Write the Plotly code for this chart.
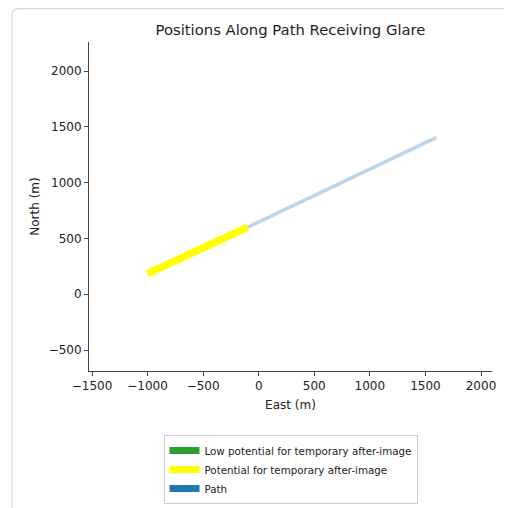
import plotly.graph_objects as go

# Data
path_east = [-1000, -100, 1600]
path_north = [185, 600, 1405]
glare_east = [-1000, -100]
glare_north = [185, 600]
legend_names = ["Low potential for temporary after-image",
                "Potential for temporary after-image",
                "Path"]
legend_colors = ["#2ca02c", "#ffff00", "#1f77b4"]
x_ticks = [-1500, -1000, -500, 0, 500, 1000, 1500, 2000]
y_ticks = [-500, 0, 500, 1000, 1500, 2000]

FONT = "DejaVu Sans"
fig = go.Figure()

# actual marks
fig.add_trace(go.Scatter(x=path_east, y=path_north, mode="lines",
                         line=dict(color="rgba(31,119,180,0.3)", width=3.5),
                         showlegend=False, hoverinfo="skip"))
fig.add_trace(go.Scatter(x=glare_east, y=glare_north, mode="lines",
                         line=dict(color="#ffff00", width=7.5),
                         showlegend=False, hoverinfo="skip"))

# legend entries
for name, col in zip(legend_names, legend_colors):
    fig.add_trace(go.Scatter(x=[None], y=[None], mode="lines", name=name,
                             line=dict(color=col, width=7)))

OFF = 8  # page body margin
W, H = 504, 500
L, T = 89 - OFF, 42 - OFF
R = W - (492 - OFF)
B = H - (371 - OFF)
pw, ph = W - L - R, H - T - B

def px(x):
    return (x - OFF - L) / pw

def py(y):
    return (H - B - (y - OFF)) / ph

x0, y1 = px(12), py(8.6)
xr, yb = px(540), py(540)
dx, dy = 7 / pw, 7 / ph
card = (f"M {x0},{yb} L {x0},{y1-dy} Q {x0},{y1} {x0+dx},{y1} L {xr},{y1}")

fig.add_shape(type="path", path=card, xref="paper", yref="paper",
              line=dict(color="#d8d8d8", width=1.2), layer="below")

fig.update_layout(
    width=W, height=H,
    margin=dict(l=L, r=R, t=T, b=B, autoexpand=False),
    paper_bgcolor="white", plot_bgcolor="white",
    font=dict(family=FONT, size=12, color="#222"),
    title=dict(text="Positions Along Path Receiving Glare",
               xref="paper", x=px(290.5), xanchor="center",
               y=1 - (30 - OFF) / H, yanchor="middle",
               font=dict(size=14.8, color="#222")),
    xaxis=dict(range=[-1527, 2099], tickvals=x_ticks, showgrid=False,
               zeroline=False, showline=True, linecolor="#444", linewidth=1,
               ticks="outside", ticklen=4, tickcolor="#444",
               tickfont=dict(size=12),
               title=dict(text="East (m)", standoff=8, font=dict(size=12))),
    yaxis=dict(range=[-688, 2260], tickvals=y_ticks, showgrid=False,
               zeroline=False, showline=True, linecolor="#444", linewidth=1,
               ticks="outside", ticklen=4, tickcolor="#444",
               tickfont=dict(size=12),
               title=dict(text="North (m)", standoff=6, font=dict(size=12))),
    legend=dict(x=0.5, xanchor="center", y=py(469.5), yanchor="middle",
                bgcolor="white", bordercolor="#cccccc", borderwidth=1,
                font=dict(size=10.3, color="#222"), tracegroupgap=0),
    showlegend=True,
)

fig.write_html("out.html")
